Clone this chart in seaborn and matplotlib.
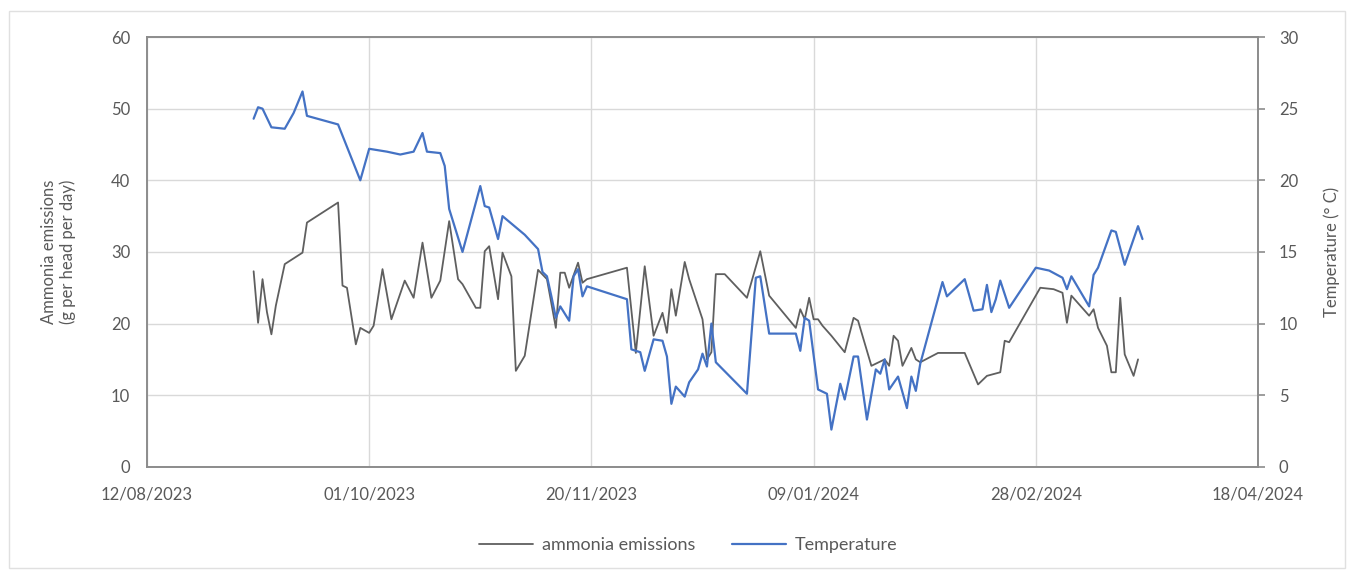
import pandas as pd
import matplotlib.pyplot as plt
import matplotlib.dates as mdates
from matplotlib.lines import Line2D
from matplotlib.patches import Rectangle
import seaborn as sns

# ammonia emissions (g per head per day)
nh3_dates = ['2023-09-05', '2023-09-06', '2023-09-07', '2023-09-08', '2023-09-09', '2023-09-10',
             '2023-09-12', '2023-09-16', '2023-09-17', '2023-09-24', '2023-09-25', '2023-09-26',
             '2023-09-28', '2023-09-29', '2023-10-01', '2023-10-02', '2023-10-04', '2023-10-06',
             '2023-10-09', '2023-10-11', '2023-10-13', '2023-10-15', '2023-10-17', '2023-10-19',
             '2023-10-21', '2023-10-22', '2023-10-25', '2023-10-26', '2023-10-27', '2023-10-28',
             '2023-10-30', '2023-10-31', '2023-11-02', '2023-11-03', '2023-11-05', '2023-11-08',
             '2023-11-10', '2023-11-12', '2023-11-13', '2023-11-14', '2023-11-15', '2023-11-17',
             '2023-11-18', '2023-11-19', '2023-11-28', '2023-11-30', '2023-12-02', '2023-12-04',
             '2023-12-06', '2023-12-07', '2023-12-08', '2023-12-09', '2023-12-11', '2023-12-12',
             '2023-12-15', '2023-12-16', '2023-12-17', '2023-12-18', '2023-12-20', '2023-12-25',
             '2023-12-28', '2023-12-30', '2024-01-05', '2024-01-06', '2024-01-07', '2024-01-08',
             '2024-01-09', '2024-01-10', '2024-01-11', '2024-01-13', '2024-01-16', '2024-01-18',
             '2024-01-19', '2024-01-22', '2024-01-25', '2024-01-26', '2024-01-27', '2024-01-28',
             '2024-01-29', '2024-01-31', '2024-02-01', '2024-02-02', '2024-02-06', '2024-02-12',
             '2024-02-15', '2024-02-17', '2024-02-20', '2024-02-21', '2024-02-22', '2024-02-29',
             '2024-03-03', '2024-03-05', '2024-03-06', '2024-03-07', '2024-03-11', '2024-03-12',
             '2024-03-13', '2024-03-15', '2024-03-16', '2024-03-17', '2024-03-18', '2024-03-19',
             '2024-03-21', '2024-03-22']
nh3_values = [27.3, 20.1, 26.2, 21.6, 18.5, 22.5,
              28.3, 29.9, 34.1, 36.9, 25.3, 25.0,
              17.1, 19.4, 18.7, 19.7, 27.6, 20.6,
              26.0, 23.6, 31.3, 23.6, 26.0, 34.3,
              26.2, 25.5, 22.2, 22.2, 30.1, 30.8,
              23.4, 29.9, 26.6, 13.4, 15.5, 27.5,
              26.2, 19.4, 27.1, 27.1, 25.0, 28.5,
              25.7, 26.2, 27.8, 15.9, 28.0, 18.3,
              21.5, 18.7, 24.8, 21.1, 28.6, 26.2,
              20.6, 15.0, 16.0, 26.9, 26.9, 23.6,
              30.1, 23.9, 19.4, 22.0, 20.6, 23.6,
              20.6, 20.6, 19.7, 18.3, 16.0, 20.8,
              20.4, 14.1, 15.0, 14.1, 18.3, 17.6,
              14.1, 16.6, 15.0, 14.6, 15.9, 15.9,
              11.5, 12.7, 13.2, 17.6, 17.4, 25.0,
              24.8, 24.3, 20.1, 23.9, 21.1, 22.0,
              19.4, 16.9, 13.2, 13.2, 23.6, 15.7,
              12.7, 15.0]

# temperature (deg C)
temp_dates = ['2023-09-05', '2023-09-06', '2023-09-07', '2023-09-09', '2023-09-12', '2023-09-14',
              '2023-09-16', '2023-09-17', '2023-09-24', '2023-09-29', '2023-10-01', '2023-10-05',
              '2023-10-08', '2023-10-11', '2023-10-13', '2023-10-14', '2023-10-17', '2023-10-18',
              '2023-10-19', '2023-10-22', '2023-10-26', '2023-10-27', '2023-10-28', '2023-10-30',
              '2023-10-31', '2023-11-05', '2023-11-08', '2023-11-09', '2023-11-10', '2023-11-11',
              '2023-11-12', '2023-11-13', '2023-11-15', '2023-11-16', '2023-11-17', '2023-11-18',
              '2023-11-19', '2023-11-28', '2023-11-29', '2023-12-01', '2023-12-02', '2023-12-04',
              '2023-12-06', '2023-12-07', '2023-12-08', '2023-12-09', '2023-12-11', '2023-12-12',
              '2023-12-14', '2023-12-15', '2023-12-16', '2023-12-17', '2023-12-18', '2023-12-25',
              '2023-12-27', '2023-12-28', '2023-12-30', '2024-01-05', '2024-01-06', '2024-01-07',
              '2024-01-08', '2024-01-10', '2024-01-12', '2024-01-13', '2024-01-15', '2024-01-16',
              '2024-01-18', '2024-01-19', '2024-01-21', '2024-01-23', '2024-01-24', '2024-01-25',
              '2024-01-26', '2024-01-28', '2024-01-30', '2024-01-31', '2024-02-01', '2024-02-02',
              '2024-02-07', '2024-02-08', '2024-02-12', '2024-02-14', '2024-02-16', '2024-02-17',
              '2024-02-18', '2024-02-19', '2024-02-20', '2024-02-22', '2024-02-28', '2024-03-02',
              '2024-03-05', '2024-03-06', '2024-03-07', '2024-03-11', '2024-03-12', '2024-03-13',
              '2024-03-16', '2024-03-17', '2024-03-19', '2024-03-22', '2024-03-23']
temp_values = [24.3, 25.1, 25.0, 23.7, 23.6, 24.7,
               26.2, 24.5, 23.9, 20.0, 22.2, 22.0,
               21.8, 22.0, 23.3, 22.0, 21.9, 21.0,
               18.0, 15.0, 19.6, 18.2, 18.1, 15.9,
               17.5, 16.2, 15.2, 13.6, 13.3, 11.9,
               10.4, 11.2, 10.2, 13.3, 13.8, 11.9,
               12.6, 11.7, 8.2, 8.0, 6.7, 8.9,
               8.8, 7.7, 4.4, 5.6, 4.9, 5.9,
               6.8, 7.9, 7.0, 10.0, 7.3, 5.1,
               13.2, 13.3, 9.3, 9.3, 8.1, 10.4,
               10.2, 5.4, 5.1, 2.6, 5.8, 4.7,
               7.7, 7.7, 3.3, 6.8, 6.5, 7.5,
               5.4, 6.3, 4.1, 6.3, 5.3, 7.2,
               12.9, 11.9, 13.1, 10.9, 11.0, 12.7,
               10.8, 11.7, 13.0, 11.1, 13.9, 13.7,
               13.2, 12.4, 13.3, 11.2, 13.4, 13.9,
               16.5, 16.4, 14.1, 16.8, 15.9]

tick_dates = ['2023-08-12', '2023-10-01', '2023-11-20', '2024-01-09', '2024-02-28', '2024-04-18']

nh3 = pd.DataFrame({'date': pd.to_datetime(nh3_dates), 'value': nh3_values})
temp = pd.DataFrame({'date': pd.to_datetime(temp_dates), 'value': temp_values})
ticks = pd.to_datetime(tick_dates)

sns.set_style("white")
plt.rcParams['font.family'] = ['Lato', 'DejaVu Sans']

grey_txt = '#595959'
spine_col = '#8c8c8c'
grid_col = '#d9d9d9'

fig = plt.figure(figsize=(13.52, 5.70), dpi=100)
ax1 = fig.add_axes([0.1087, 0.181, 0.8218, 0.754])
ax2 = ax1.twinx()

sns.lineplot(x='date', y='value', data=nh3, ax=ax1, color='#5f5f5f', linewidth=1.3, zorder=3)
sns.lineplot(x='date', y='value', data=temp, ax=ax2, color='#4472C4', linewidth=1.6, zorder=3)

ax1.set_xlim(ticks[0], ticks[-1])
ax1.set_xticks(ticks)
ax1.xaxis.set_major_formatter(mdates.DateFormatter('%d/%m/%Y'))
ax1.set_ylim(0, 60)
ax1.set_yticks(range(0, 61, 10))
ax2.set_ylim(0, 30)
ax2.set_yticks(range(0, 31, 5))

ax1.grid(True, color=grid_col, linewidth=1.0)
ax1.set_axisbelow(True)
ax2.grid(False)

for ax in (ax1, ax2):
    for s in ax.spines.values():
        s.set_visible(True)
        s.set_color(spine_col)
        s.set_linewidth(1.2)

ax1.tick_params(axis='x', length=0, pad=14, labelsize=12, labelcolor=grey_txt)
ax1.tick_params(axis='y', length=0, pad=12, labelsize=12, labelcolor=grey_txt)
ax2.tick_params(axis='y', length=5, width=1.2, color=spine_col, pad=10, labelsize=12, labelcolor=grey_txt)

ax1.set_xlabel('')
ax1.set_ylabel('Ammonia emissions\n(g per head per day)', fontsize=12, color=grey_txt, labelpad=25)
ax2.set_ylabel('Temperature (° C)', fontsize=12, color=grey_txt, labelpad=18)

handles = [Line2D([0], [0], color='#5f5f5f', linewidth=1.3),
           Line2D([0], [0], color='#4472C4', linewidth=1.6)]
fig.legend(handles, ['ammonia emissions', 'Temperature'], loc='center', bbox_to_anchor=(0.509, 0.043),
           ncol=2, frameon=False, fontsize=13, labelcolor=grey_txt, handlelength=3.0,
           handletextpad=0.5, columnspacing=2.0)

fig.patches.append(Rectangle((0.007, 0.004), 0.988, 0.976, transform=fig.transFigure,
                             fill=False, edgecolor='#e0e0e0', linewidth=1.0))

plt.savefig('out.png', dpi=100)
